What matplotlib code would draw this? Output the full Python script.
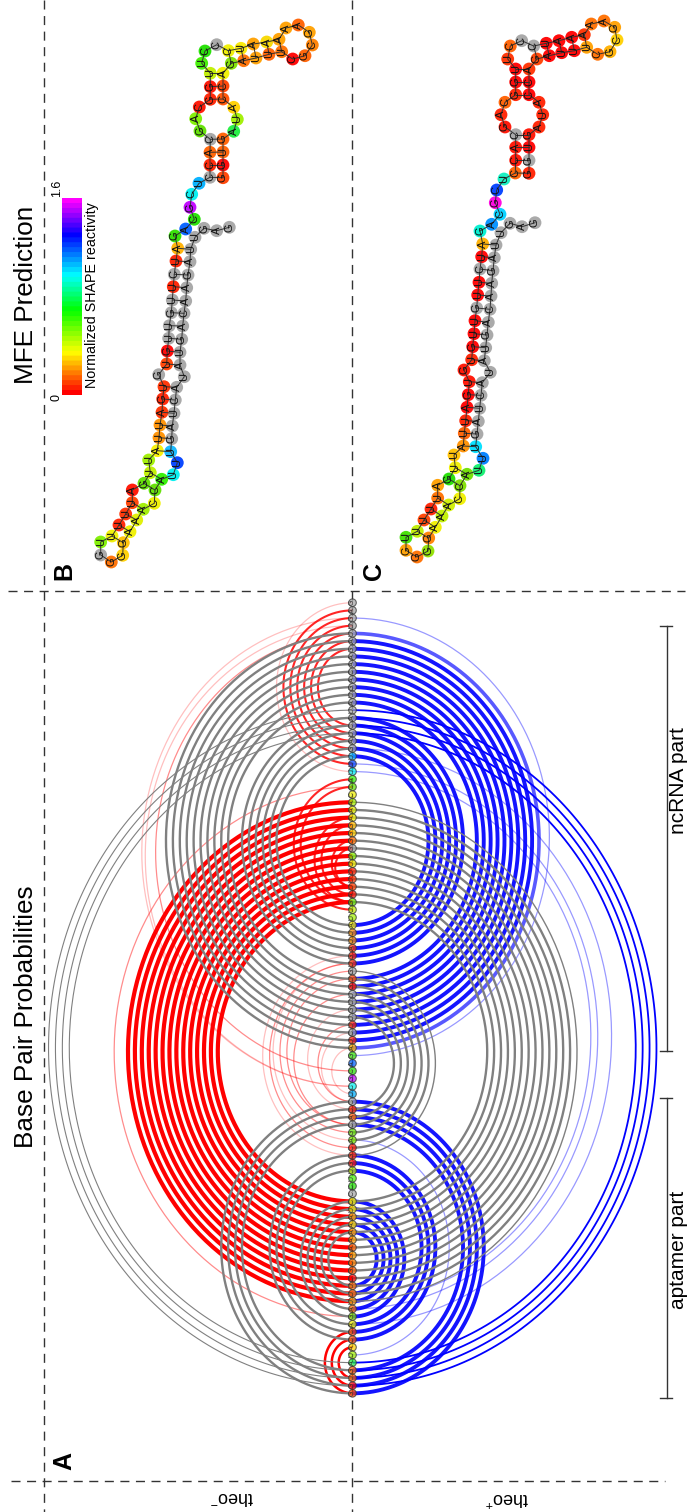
import numpy as np
import matplotlib
matplotlib.use("Agg")
import matplotlib.pyplot as plt
from matplotlib.colors import LinearSegmentedColormap

plt.rcParams['font.family'] = ['Liberation Sans', 'DejaVu Sans']
plt.rcParams['mathtext.default'] = 'regular'

# sequence, 5' tail first
SEQ = ("GAGUUAGAACAGUAUACUAGUUUACCAAAGGGGUUUUUAGUUAUUAGUGUGUUGUUCUAGACGCUCCACGACGGUUCCCUAAAAAGCGCUUUAGACCAUAGUGG")

G = "#a6a6a6"
# reactivity colours, structure B (also used on the arc diagram backbone)
COL_B = [G]*20 + ["#10b8ff", "#0040ff", "#00f0f0", "#30f000", "#60e000", "#f0f000", "#a0f000", "#e0f000",
    "#f0f000", "#ffc000", "#ffd000", "#ff7000", G, "#80f000", "#f0f000", "#ff2000", "#ff3000", "#ff4000",
    "#ff1000", "#60e000", "#c0f000", "#a0f000", "#f8f000", "#ff9000", "#ff9000", "#ff3000", "#ff2000",
    "#ff3000", G, "#ff4000", "#ff0000", G, G, G, G, "#ff2000", G, "#ff2000", "#ffb000", "#30e000", "#0060ff",
    "#20e000", "#c000ff", "#00f0f0", "#00b0ff", G, "#ff2000", "#ff6000", G, "#60e000", "#80f000", "#ff1000",
    "#ff2000", "#ff1000", "#c0f000", "#40f000", "#20e000", G, "#f0f000", "#f8e800", "#ffa000", "#f8d800",
    "#ffa000", "#ffa000", "#ff6000", "#ffa000", "#ff8000", "#ff6000", "#ff0000", "#ff7000", "#ff6000",
    "#ffa000", "#ff7000", "#80e000", "#f0f000", "#ff4000", "#ff5000", "#ffd000", "#a0f000", "#20f040",
    "#ff6000", "#ff6000", "#ff0000", "#ff4000"]
COL_C = [G]*20 + ["#00e0ff", "#0080ff", "#10f070", "#70e000", "#80e000", "#f0f000", "#d0f000", "#c0f000",
    "#f0f000", "#ff8000", "#90e000", "#ff7000", "#ffa000", "#40e000", "#c0f000", "#ff4000", "#ff2000",
    "#ff7000", "#ffa000", "#20e000", "#f0f000", "#ffc000", "#ff9000", "#ff6000", "#ff2000", "#ff0000",
    "#ff0000", "#ff1000", "#ff1000", "#ff2000", "#ff0000", "#ff0000", "#ff0000", G, "#ff0000", "#ff0000", G,
    "#ff0000", "#ffb000", "#00f0d0", "#0090ff", "#00d0ff", "#ff00e0", "#0040ff", "#10f0c0", "#ff6000",
    "#ff1000", "#ff1000", G, "#ff1000", "#ff2000", "#ff6000", "#ff2000", "#ff0000", "#ff0000", "#ff3000",
    "#ff6000", G, G, "#ff0000", "#ff0000", "#ff0000", "#ff3000", "#ff7000", "#ff7000", "#ffa000", "#ffd000",
    "#ffb000", "#ff7000", "#ffa000", "#ff0000", "#ff0000", "#ff0000", "#ff4000", "#ff3000", "#ff0000",
    "#ff0000", "#ff2000", "#ff2000", "#ff2000", "#ff1000", "#ff0000", G, "#ff2000"]

B_X = [229.3,216.7,204,195,190.7,190,188,186.7,185.7,184,182.7,181.7,180,180,184.3,176.7,175.3,174,172.3,171.7,
       170.7,177.3,173.3,161.7,155,154.3,143.3,136.7,130,123.3,122.7,111.3,100.7,100.7,112,119,125.7,132.3,132.3,144,
       150.3,148.7,157.3,159,160,162,162.7,164,158.7,166.7,167.3,168.7,169.3,171.3,172.3,173.3,174.3,176,177.7,175,
       185.7,194.3,190,191.7,199,210,210,210,210.3,200,195.7,199.3,210.3,210.3,210.3,201.7,205,216.7,228.3,241,
       253.3,266.7,279,286,298.3,309.3,312.3,305,292.7,281.7,269,256,243.7,231.3,223,223,223,233.7,237.3,233.7,
       223,223,223,223]
B_Y = [227.3,230.7,228.3,237.3,249.3,261.7,275,287.7,301,313.3,326,339.3,352.3,365,376.7,387.3,400,413.3,426,438.7,
       451.7,462.7,474.7,479.3,490,503.3,509.3,520,531.7,542.7,555.3,562,555,542,536,525,514,502.7,490,483.3,
       472.7,460,450.7,437.7,425,412.3,399,386.7,374.7,364,351,338.3,325.7,312.7,300,286.7,274.3,261,248.3,236,
       229,219.3,207.3,194.3,183.3,177.3,165,152.3,139.3,131,118.7,107,99.3,86.7,73.3,63.3,51,44.7,50.7,48.3,
       44,42,39.3,28,25,32.3,45,55.7,59,51.7,54.3,58,60.7,63.3,73.3,86,99,107.3,119.3,131.3,
       139,152,165,177.7]
C_X = [535,522,510,501,496,494.3,493,491.7,491,490,488.3,487,485.7,484.3,490.3,482.3,481,479.7,478.3,477,
       475.7,483,479,467,460,459.7,448.7,442,435.3,428.7,428,417,406,406,417.3,424,431,437.7,437.7,449,
       455.3,454,463.3,464.3,465.7,467,468.3,469.3,464,471.7,472.7,474,475,476.7,477.7,479,480,481.7,482.7,480,
       491.7,500,495.3,496.7,504,515.3,515.7,515.7,515.7,505,501,505,515.7,515.7,515.7,507.7,510.3,521.7,533.7,546.3,
       559,571.7,584.3,591.3,604,614.7,617,610,597.7,586.7,574.3,561.7,549.3,537,529,529,529,539,542.7,539,
       529,529,529,529]
C_Y = [222.7,226.7,223.3,232.7,245,257.7,270.7,283.3,296,309.3,322.3,335,347.7,360.7,372.3,382.7,395.3,408.3,421.3,434,
       446.7,458.3,470.3,474.3,485.7,498.7,505,516,527.3,538,551,557,550.3,537.3,531.3,520,509,498,485.3,479,
       467.7,455,446,433.3,420.7,407.3,394.7,381.7,370,359.7,346.7,333.7,320.7,308,295,282.3,269,256.7,244,231,
       224.3,214.3,202.7,190,179,173,160.3,147.3,134.7,127,114.7,102.3,94.7,82,69,59,46,40.7,46,43.3,
       40.7,37.3,34.7,24,21,27.3,40,51.7,54.3,47.3,50.7,52.7,55.7,59,69,82,94.7,102.3,114.7,127,
       134.7,147.3,160.3,173.3]

# helices in the secondary structures: first base, partner, length (0-based)
STEMS = [(4, 58, 10), (15, 47, 6), (23, 40, 2), (26, 37, 4), (65, 103, 4), (72, 96, 3), (78, 93, 5)]

# arc helices: first base, partner, length, (1-based, partner counts down)
RED_PALE = [(1, 23, 1), (3, 64, 1), (4, 64, 1), (59, 65, 1), (57, 66, 1), (54, 67, 1), (48, 71, 1), (47, 73, 1)]
RED_MID = [(5, 62, 1), (25, 94, 1), (48, 72, 1), (49, 70, 1), (50, 69, 1), (52, 69, 1), (56, 66, 1)]
RED_THIN = [(2, 22, 6), (24, 41, 2), (29, 40, 2), (32, 38, 1), (33, 38, 1)]
RED_HAIRPIN = [(96, 104, 1), (97, 103, 1), (98, 102, 1)]
RED_THICK = [(27, 92, 14)]
GRAY_LEFT = [(5, 59, 10), (16, 48, 6), (66, 104, 4), (73, 97, 3), (79, 94, 5)]
GRAY_THIN = [(15, 103, 4)]
BLUE_THICK = [(6, 58, 9), (16, 48, 6), (66, 104, 4), (73, 97, 3), (79, 94, 5)]
BLUE_SOFT = [(5, 59, 1)]
BLUE_PALE = [(3, 60, 1), (20, 95, 1), (22, 93, 1), (23, 92, 1), (71, 99, 1)]
BLUE_LONG = [(15, 103, 4)]
GRAY_RIGHT_THIN = [(27, 92, 1), (49, 73, 1)]
GRAY_RIGHT = [(28, 91, 13), (50, 72, 6)]

BAR_LABEL = "Normalized SHAPE reactivity"

BASE_X = 352.5
TOP_Y = 602.7
STEP = 7.676
RATIO = 0.9

fig = plt.figure(figsize=(6.89, 15.12), dpi=100)
ax = fig.add_axes([0, 0, 1, 1])


def pos(k):
    return TOP_Y + (k - 1) * STEP


def draw_arcs(helices, side, **style):
    t = np.linspace(0, np.pi, 160)
    for i, j, n in helices:
        for s in range(n):
            a, b = pos(i + s), pos(j - s)
            yc, r = (a + b) / 2, abs(b - a) / 2
            ax.plot(BASE_X + side * RATIO * r * np.sin(t), yc + r * np.cos(t),
                    solid_capstyle='butt', **style)


# dashed frame
dash = dict(color="#333333", lw=1.0, linestyle=(0, (6.5, 4.7)), zorder=0)
ax.plot([43.5, 43.5], [0, 1512], **dash)
ax.plot([352, 352], [0, 1512], **dash)
ax.plot([8, 685], [590.5, 590.5], **dash)
ax.plot([11, 665], [1480.5, 1480.5], **dash)

# theo- side
draw_arcs(RED_PALE, -1, color="#ff0000", lw=0.9, alpha=0.25, zorder=1)
draw_arcs(RED_MID, -1, color="#ff0000", lw=0.9, alpha=0.45, zorder=1)
draw_arcs(RED_THIN, -1, color="#ff0000", lw=1.5, alpha=0.85, zorder=2)
draw_arcs(RED_THICK, -1, color="#ff0000", lw=3.0, zorder=2)
draw_arcs(RED_HAIRPIN, -1, color="#ff0000", lw=1.8, zorder=2)
draw_arcs(GRAY_LEFT, -1, color="#808080", lw=1.7, zorder=3)
draw_arcs(GRAY_THIN, -1, color="#808080", lw=0.8, zorder=3)

# theo+ side
draw_arcs(BLUE_PALE, 1, color="#0000ff", lw=0.9, alpha=0.4, zorder=1)
draw_arcs(BLUE_SOFT, 1, color="#0000ff", lw=2.6, alpha=0.65, zorder=2)
draw_arcs(BLUE_THICK, 1, color="#0000ff", lw=2.8, alpha=0.92, zorder=2)
draw_arcs(BLUE_LONG, 1, color="#0000ff", lw=1.3, zorder=2)
draw_arcs(GRAY_RIGHT_THIN, 1, color="#808080", lw=1.0, zorder=3)
draw_arcs(GRAY_RIGHT, 1, color="#808080", lw=1.7, zorder=3)

# backbone nodes
ys = [pos(k + 1) for k in range(len(SEQ))]
ax.scatter([BASE_X] * len(SEQ), ys, s=30, c=COL_B, edgecolors="#333333", linewidths=0.8, alpha=0.72, zorder=5)
for y, ch in zip(ys, SEQ):
    ax.text(BASE_X, y, ch, rotation=90, fontsize=5, color="#333333", ha='center', va='center', zorder=6)


def draw_structure(xs, ys, cols):
    ax.plot(xs, ys, color="#333333", lw=0.7, zorder=4)
    for i, j, n in STEMS:
        for s in range(n):
            ax.plot([xs[i + s], xs[j - s]], [ys[i + s], ys[j - s]], color="#333333", lw=0.7, zorder=4)
    ax.scatter(xs, ys, s=85, c=cols, linewidths=0, zorder=3.5, alpha=0.95)
    for x, y, ch in zip(xs, ys, SEQ):
        ax.text(x, y, ch, rotation=90, fontsize=8, color="#111111", ha='center', va='center', zorder=5)


draw_structure(B_X, B_Y, COL_B)
draw_structure(C_X, C_Y, COL_C)

# colour bar
cmap = LinearSegmentedColormap.from_list(
    "shape", [(0, "#ff0000"), (0.21, "#ffff00"), (0.43, "#00ff00"), (0.61, "#00ffff"), (0.82, "#0000ff"), (1, "#ff00ff")], N=40)
ax.imshow(np.linspace(1, 0, 200).reshape(-1, 1), cmap=cmap, extent=(62, 82, 395, 198), aspect='auto', zorder=2, vmin=0, vmax=1)
ax.text(57, 397.5, "0", rotation=90, fontsize=9, ha='center', va='center')
ax.text(57, 197, "1.6", rotation=90, fontsize=9, ha='center', va='bottom')
ax.text(92, 295.5, BAR_LABEL, rotation=90, fontsize=10.3, ha='center', va='center')

# brackets
for y1, y2 in [(626, 1051), (1098, 1398)]:
    ax.plot([666.5, 666.5], [y1, y2], color="#333333", lw=1.0, zorder=2)
    ax.plot([660, 672], [y1, y1], color="#333333", lw=1.0, zorder=2)
    ax.plot([660, 672], [y2, y2], color="#333333", lw=1.0, zorder=2)
ax.text(679, 781, "ncRNA part", rotation=90, fontsize=15, ha='center', va='center')
ax.text(679, 1250, "aptamer part", rotation=90, fontsize=15, ha='center', va='center')

# titles and panel letters
ax.text(26, 1017, "Base Pair Probabilities", rotation=90, fontsize=18.8, ha='center', va='center')
ax.text(26, 295, "MFE Prediction", rotation=90, fontsize=18.8, ha='center', va='center')
ax.text(64, 1461, "A", rotation=90, fontsize=18, fontweight='bold', ha='center', va='center')
ax.text(64, 571, "B", rotation=90, fontsize=18, fontweight='bold', ha='center', va='center')
ax.text(374, 571, "C", rotation=90, fontsize=18, fontweight='bold', ha='center', va='center')
ax.text(232, 1497, "theo$^{-}$", rotation=180, fontsize=13, ha='center', va='center')
ax.text(507, 1497, "theo$^{+}$", rotation=180, fontsize=13, ha='center', va='center')

ax.set_xlim(0, 689)
ax.set_ylim(1512, 0)
ax.axis('off')
fig.savefig("out.png", dpi=100)
